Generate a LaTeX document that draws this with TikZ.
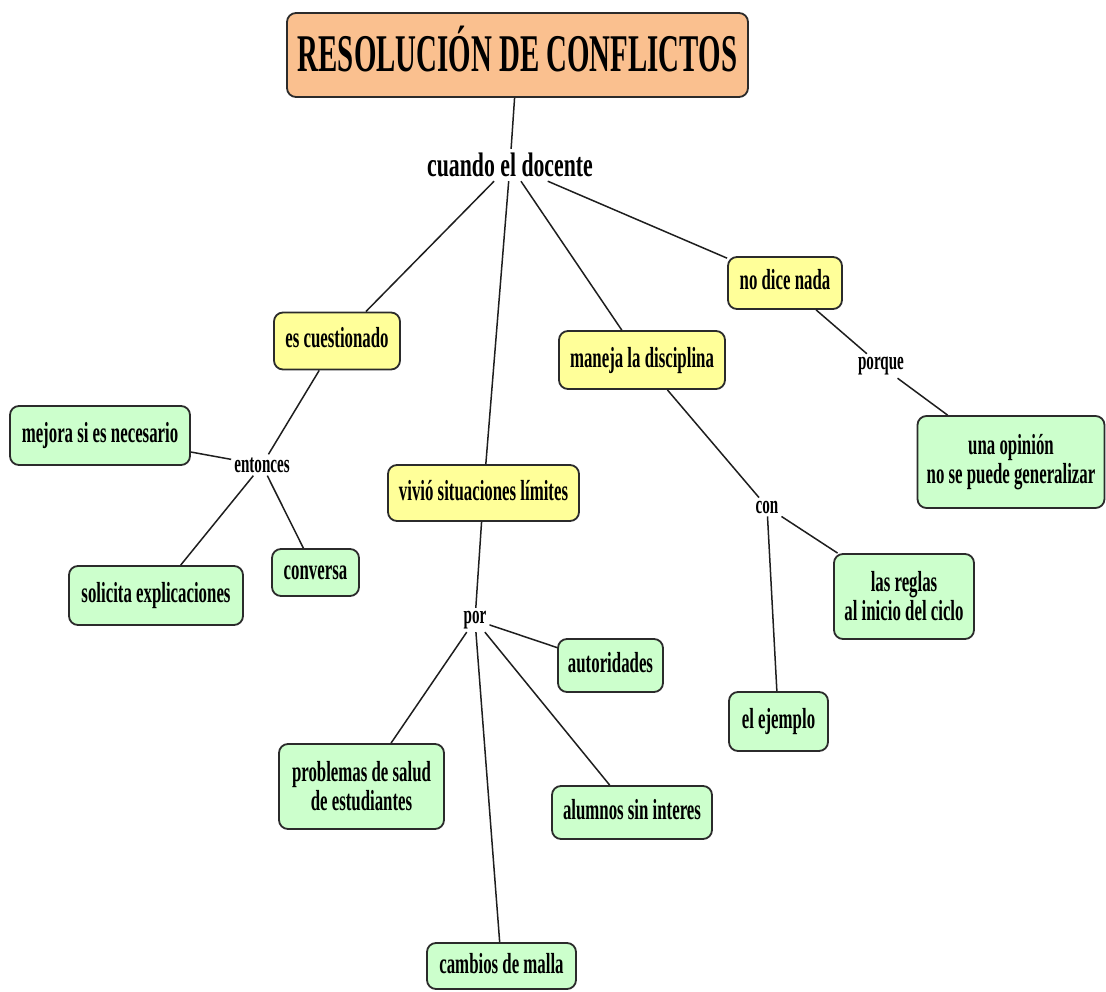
\documentclass[tikz,border=0pt]{standalone}
\usepackage{fontspec}
\newfontfamily\boxfont{Liberation Serif Bold}[FakeStretch=0.58]
\newfontfamily\cuandofont{Liberation Serif Bold}[FakeStretch=0.64]
\newfontfamily\titlefont{Liberation Serif Bold}[FakeStretch=0.545]
\definecolor{peach}{HTML}{FAC08F}
\definecolor{yel}{HTML}{FFFF99}
\definecolor{grn}{HTML}{CCFFCC}
\definecolor{boxline}{HTML}{2B2B2B}
\definecolor{linkcol}{HTML}{1E1E1E}
\tikzset{
  box/.style={draw=boxline, line width=1.8pt, rounded corners=9pt, align=center,
    inner sep=0pt, font=\boxfont\fontsize{29}{29}\selectfont},
  ybox/.style={box, fill=yel},
  gbox/.style={box, fill=grn},
  sz/.style 2 args={minimum width=#1pt, minimum height=#2pt},
  oneline/.style={text height=20pt, text depth=6pt},
  lab/.style={inner sep=3pt, font=\boxfont\fontsize{26}{26}\selectfont},
  link/.style={line width=1.5pt, draw=linkcol},
}
\begin{document}
\begin{tikzpicture}[x=1pt,y=-1pt]
\useasboundingbox (0,0) rectangle (1106,992);
% nodes
\node[box, fill=peach, sz={461}{84}, font=\titlefont\fontsize{53}{53}\selectfont,
  text height=36pt, text depth=2pt] (title) at (517.5,55) {RESOLUCIÓN DE CONFLICTOS};
\node[inner sep=4pt, font=\cuandofont\fontsize{34}{34}\selectfont] (cuando) at (510,165) {cuando el docente};

\node[ybox, oneline, sz={126}{57}] (escuest) at (337,341) {es cuestionado};
\node[ybox, oneline, sz={191}{56}] (vivio) at (483.5,493) {vivió situaciones límites};
\node[ybox, oneline, sz={166}{58}] (maneja) at (642,360) {maneja la disciplina};
\node[ybox, oneline, sz={114}{52}] (nodice) at (785,283) {no dice nada};

\node[gbox, oneline, sz={180}{59}] (mejora) at (100,435.5) {mejora si es necesario};
\node[gbox, oneline, sz={174}{59}] (solicita) at (156,595.5) {solicita explicaciones};
\node[gbox, oneline, sz={87}{47}] (conversa) at (315.5,572.5) {conversa};
\node[gbox, oneline, sz={105}{53}] (autoridades) at (610.5,665.5) {autoridades};
\node[gbox, sz={165}{85}] (problemas) at (361.5,786.5) {problemas de salud\\de estudiantes};
\node[gbox, oneline, sz={160}{53}] (alumnos) at (632,812.5) {alumnos sin interes};
\node[gbox, oneline, sz={149}{46}] (cambios) at (501.5,966) {cambios de malla};
\node[gbox, oneline, sz={99}{59}] (ejemplo) at (778.5,721.5) {el ejemplo};
\node[gbox, sz={140}{85}] (reglas) at (904,596.5) {las reglas\\al inicio del ciclo};
\node[gbox, sz={187}{92}] (opinion) at (1011,462) {una opinión\\no se puede generalizar};

\node[lab] (entonces) at (262,465) {entonces};
\node[lab] (por) at (475,620) {por};
\node[lab] (con) at (767,507) {con};
\node[lab] (porque) at (881,366) {porque};

% connectors
\draw[link] (title) -- (cuando);
\draw[link] (cuando) -- (escuest);
\draw[link] (cuando) -- (vivio);
\draw[link] (cuando) -- (maneja);
\draw[link] (cuando) -- (nodice);
\draw[link] (escuest) -- (entonces);
\draw[link] (entonces) -- (mejora);
\draw[link] (entonces) -- (solicita);
\draw[link] (entonces) -- (conversa);
\draw[link] (vivio) -- (por);
\draw[link] (por) -- (autoridades);
\draw[link] (por) -- (problemas);
\draw[link] (por) -- (cambios);
\draw[link] (por) -- (alumnos);
\draw[link] (maneja) -- (con);
\draw[link] (con) -- (ejemplo);
\draw[link] (con) -- (reglas);
\draw[link] (nodice) -- (porque);
\draw[link] (porque) -- (opinion);
\end{tikzpicture}
\end{document}
